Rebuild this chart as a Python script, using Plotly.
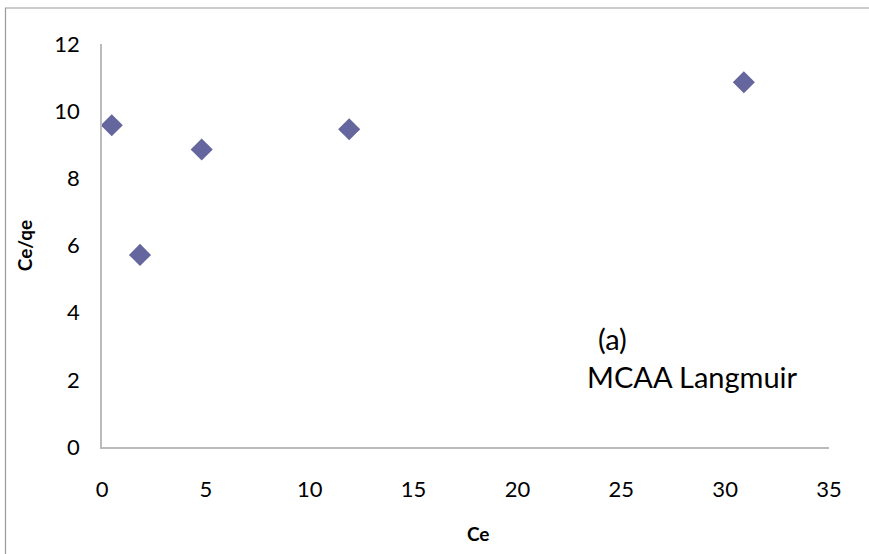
import plotly.graph_objects as go

ce = [0.47, 1.83, 4.8, 11.9, 30.9]
ce_qe = [9.58, 5.72, 8.86, 9.46, 10.86]
x_ticks = [0, 5, 10, 15, 20, 25, 30, 35]
y_ticks = [0, 2, 4, 6, 8, 10, 12]

W, H = 869, 554
L, R, T, B = 102, 40, 44, 107
pw, ph = W - L - R, H - T - B

def px(x):
    return (x - L) / pw

def py(y):
    return (H - B - y) / ph

fig = go.Figure()
fig.add_trace(go.Scatter(
    x=ce, y=ce_qe, mode="markers",
    marker=dict(symbol="diamond", size=17, color="#65669E",
                line=dict(width=0)),
    showlegend=False,
))

font = "Lato, 'Open Sans', sans-serif"
fig.update_layout(
    width=W, height=H,
    margin=dict(l=L, r=R, t=T, b=B),
    plot_bgcolor="white", paper_bgcolor="white",
    font=dict(family=font, size=22, color="black"),
    xaxis=dict(range=[0, 35], tickvals=x_ticks, ticktext=[str(v) for v in x_ticks],
               showgrid=False, zeroline=False, showline=True,
               linecolor="#BBBBBB", linewidth=1.5, ticks="",
               ticklabelstandoff=22, automargin=False),
    yaxis=dict(range=[0, 12], tickvals=y_ticks, ticktext=[str(v) for v in y_ticks],
               showgrid=False, zeroline=False, showline=True,
               linecolor="#BBBBBB", linewidth=1.5, ticks="",
               ticklabelstandoff=16, automargin=False,
               title=dict(text="<b>Ce/qe</b>", font=dict(size=19), standoff=17)),
)

fig.add_annotation(text="<b>Ce</b>", xref="paper", yref="paper",
                   x=px(478), y=py(533), xanchor="center", yanchor="middle",
                   showarrow=False, font=dict(size=19))
fig.add_annotation(text="(a)", xref="paper", yref="paper",
                   x=px(596), y=py(338), xanchor="left", yanchor="middle",
                   showarrow=False, font=dict(size=29))
fig.add_annotation(text="MCAA Langmuir", xref="paper", yref="paper",
                   x=px(585), y=py(376), xanchor="left", yanchor="middle",
                   showarrow=False, font=dict(size=29))

fig.add_shape(type="rect", xref="paper", yref="paper",
              x0=px(5.5), y0=py(H + 20), x1=px(W + 20), y1=py(8),
              line=dict(color="#999999", width=1.2), layer="below")

fig.write_html("out.html", config={"displayModeBar": False},
               post_script="document.body.style.margin='0px';document.body.style.overflow='hidden';")
